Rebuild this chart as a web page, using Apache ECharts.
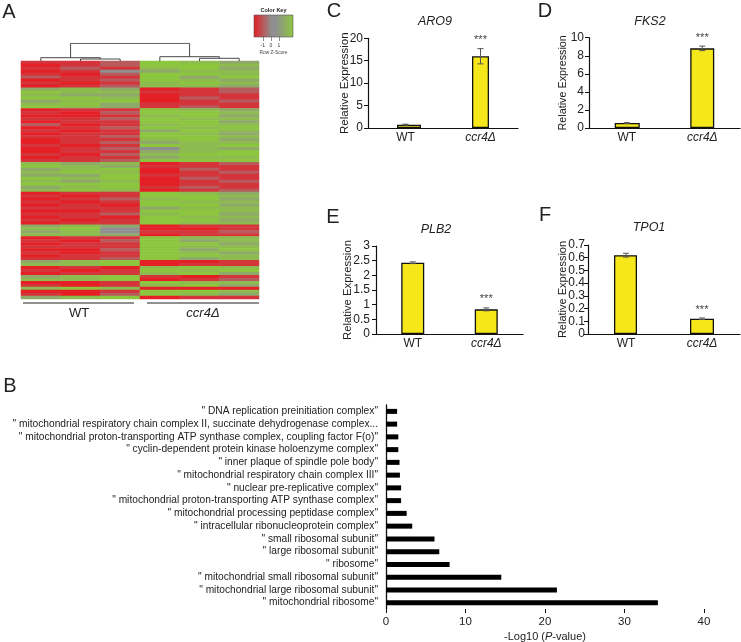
<!DOCTYPE html>
<html>
<head>
<meta charset="utf-8">
<script src="https://cdn.jsdelivr.net/npm/echarts@6/dist/echarts.min.js"></script>
<style>
html,body{margin:0;padding:0;background:#fff;}
#chart{width:741px;height:642px;}
</style>
</head>
<body>
<div id="chart"></div>
<script>
// ---------- Panel A: heatmap (rows top->bottom, 6 samples: WT x3, ccr4Δ x3) ----------
// letter code of row z-score: R=-1.5 r=-1.2 s=-0.7 m=0 h=0.7 g=1.2 G=1.5
const heatSamples = ['WT-1','WT-2','WT-3','ccr4Δ-1','ccr4Δ-2','ccr4Δ-3'];
const zCode = {R:-1.5, r:-1.2, s:-0.7, m:0, h:0.7, g:1.2, G:1.5};
const heatRows = [
  "rrsGgh","RrsGGg","rsrgGh","Rrmhgg","rRsGGg","srrGhG","RrsGgh","rRrgGg","Rrsggh",
  "hghRrs","Gggrrs","ghhRrr","GGgRsr","hgGRrs","gGhrrr","Gghrsr",
  "RrrGgh","rRsGGg","RRrgGh","rrsGgg","RrrGGh","sRrgGg","RrsGgG","rRrhGg","RrrGgh",
  "rrsGGg","RrrgGh","Rrshgg","rRrGgG","Rrsmgh","RrrhgG","rRsgGG","Rrrhgg","rrsGGG",
  "ghgRrs","Gghrrr","hgGRsr","gGgRrs","hhGrrr","GgGRsr","ghgRrs","GGGRrr","hgGrsr","gGgRrs",
  "RrrGgh","rRrGGg","RrsgGh","rRrGgg","RrRGGh","rrrhgg","RRrGGg","rrsgGh","RrRGgg","rRrGGh","RrrGgg",
  "hghRrr","gGmRRr","hgmrrs","gghRrr",
  "RrrGgg","rRsGhg","RrrGGh","rrrGgg","RRsGhG","rRrGgh","RrrGGg","rrsGhg",
  "hgGRRr","ggGRrr",
  "RrRgGg","rRrGgG","RrrgGh",
  "hgGrRr","ggGRrs",
  "RRrGgg","rRrgGh",
  "gGgRRR",
  "RRrGGg","rRsGgh",
  "hgGRrr"
];
// dendrogram over samples: [childA, childB, height] (leaves 0..5, merges numbered from 6)
const dendroMerges = [[1,2,2.0],[0,6,3.3],[4,5,2.7],[3,8,4.3],[7,9,17.7]];

// ---------- Panels C-F: qPCR ----------
const qpcrCats = ['WT','ccr4Δ'];
const aro9Mean = [0.75, 16.0], aro9Err = [0.1, 1.7];
const fks2Mean = [0.55, 8.82], fks2Err = [0.05, 0.25];
const plb2Mean = [2.43, 0.84], plb2Err = [0.03, 0.05];
const tpo1Mean = [0.62, 0.12], tpo1Err = [0.015, 0.006];
const sigMarks = ['', '***'];

// ---------- Panel B: GO terms ----------
const goTerms = [
  '" DNA replication preinitiation complex"',
  '" mitochondrial respiratory chain complex II, succinate dehydrogenase complex...',
  '" mitochondrial proton-transporting ATP synthase complex, coupling factor F(o)"',
  '" cyclin-dependent protein kinase holoenzyme complex"',
  '" inner plaque of spindle pole body"',
  '" mitochondrial respiratory chain complex III"',
  '" nuclear pre-replicative complex"',
  '" mitochondrial proton-transporting ATP synthase complex"',
  '" mitochondrial processing peptidase complex"',
  '" intracellular ribonucleoprotein complex"',
  '" small ribosomal subunit"',
  '" large ribosomal subunit"',
  '" ribosome"',
  '" mitochondrial small ribosomal subunit"',
  '" mitochondrial large ribosomal subunit"',
  '" mitochondrial ribosome"'
];
const goValues = [1.4, 1.4, 1.55, 1.55, 1.7, 1.75, 1.9, 1.9, 2.6, 3.3, 6.1, 6.7, 8.0, 14.5, 21.5, 34.2];

// ---------- build ----------
const FONT = '"Liberation Sans", Arial, Helvetica, sans-serif';
const TXT = '#222';

const heatData = [];
heatRows.forEach((row, r) => {
  for (let c = 0; c < row.length; c++) heatData.push([c, r, zCode[row[c]]]);
});

// dendrogram segments
const nodeX = [0,1,2,3,4,5], nodeH = [0,0,0,0,0,0];
const dendroLines = [];
dendroMerges.forEach(m => {
  const [a, b, h] = m;
  dendroLines.push({coords: [[nodeX[a], nodeH[a]], [nodeX[a], h], [nodeX[b], h], [nodeX[b], nodeH[b]]]});
  nodeX.push((nodeX[a] + nodeX[b]) / 2);
  nodeH.push(h);
});

const G = o => Object.assign({outerBoundsMode: 'none', containLabel: false}, o);
const grids = [
  G({left: 21, top: 61, width: 238, height: 238}),            // 0 heatmap
  G({left: 21, top: 43.3, width: 238, height: 17.7}),         // 1 dendrogram
  G({left: 254, top: 15, width: 39, height: 22}),             // 2 colour key
  G({left: 368, top: 38.3, width: 150, height: 89.7}),        // 3 C
  G({left: 589, top: 37.7, width: 151, height: 90.3}),        // 4 D
  G({left: 376, top: 246, width: 147, height: 88}),           // 5 E
  G({left: 588, top: 245, width: 152, height: 89}),           // 6 F
  G({left: 386, top: 405, width: 318, height: 204})           // 7 B
];

const xAxes = [
  {gridIndex: 0, type: 'category', data: heatSamples, show: false},
  {gridIndex: 1, type: 'value', min: -0.5, max: 5.5, show: false},
  {gridIndex: 2, type: 'value', min: -2.1, max: 2.75, show: true, position: 'bottom',
    axisLine: {show: false}, splitLine: {show: false},
    axisTick: {show: true, length: 4, customValues: [-1, 0, 1], lineStyle: {color: '#444', width: 0.6}},
    axisLabel: {show: true, customValues: [-1, 0, 1], fontSize: 5, margin: 6, color: '#333', fontFamily: FONT}}
];
const yAxes = [
  {gridIndex: 0, type: 'category', data: heatRows.map((_, i) => 'g' + i), inverse: true, show: false},
  {gridIndex: 1, type: 'value', min: 0, max: 17.7, show: false},
  {gridIndex: 2, type: 'value', min: 0, max: 1, show: false}
];

const qpcrPanels = [
  {grid: 3, mean: aro9Mean, err: aro9Err, max: 20, interval: 5, widths: [24, 17], nameGap: 17, nameSize: 11.5, lm: 5},
  {grid: 4, mean: fks2Mean, err: fks2Err, max: 10, interval: 2, widths: [25, 24], nameGap: 20, nameSize: 10.8, lm: 5},
  {grid: 5, mean: plb2Mean, err: plb2Err, max: 3, interval: 0.5, widths: [23, 23], nameGap: 23, nameSize: 11.3, lm: 6},
  {grid: 6, mean: tpo1Mean, err: tpo1Err, max: 0.7, interval: 0.1, widths: [23, 24], nameGap: 20, nameSize: 11, lm: 3}
];

const series = [
  {type: 'heatmap', xAxisIndex: 0, yAxisIndex: 0, data: heatData, progressive: 0,
    emphasis: {disabled: true}, itemStyle: {borderWidth: 0}},
  {type: 'lines', coordinateSystem: 'cartesian2d', xAxisIndex: 1, yAxisIndex: 1, polyline: true,
    data: dendroLines, lineStyle: {color: '#333', width: 0.9, opacity: 1}, silent: true}
];

qpcrPanels.forEach(p => {
  const ax = xAxes.length;
  xAxes.push({gridIndex: p.grid, type: 'category', data: qpcrCats,
    axisLine: {lineStyle: {color: '#111', width: 1.2}}, axisTick: {show: false},
    axisLabel: {fontSize: 12, color: TXT, fontFamily: FONT, margin: 4,
      formatter: v => v === 'WT' ? v : '{i|' + v + '}',
      rich: {i: {fontStyle: 'italic', fontSize: 12, color: TXT, fontFamily: FONT}}}});
  yAxes.push({gridIndex: p.grid, type: 'value', min: 0, max: p.max, interval: p.interval,
    name: 'Relative Expression', nameLocation: 'middle', nameGap: p.nameGap, nameMoveOverlap: false,
    nameTextStyle: {fontSize: p.nameSize, color: TXT, fontFamily: FONT},
    axisLine: {show: true, lineStyle: {color: '#111', width: 1.2}},
    axisTick: {show: true, length: 4, lineStyle: {color: '#111', width: 1}},
    axisLabel: {fontSize: 12, color: TXT, fontFamily: FONT, margin: p.lm},
    splitLine: {show: false}});
  const barStyle = {color: '#f6e71a', borderColor: '#111', borderWidth: 1.3};
  series.push({type: 'bar', xAxisIndex: ax, yAxisIndex: ax, barWidth: p.widths[0], barGap: '-100%',
    data: [p.mean[0], '-'], itemStyle: barStyle, silent: true});
  series.push({type: 'bar', xAxisIndex: ax, yAxisIndex: ax, barWidth: p.widths[1], barGap: '-100%',
    data: ['-', p.mean[1]], itemStyle: barStyle, silent: true});
  series.push({type: 'custom', xAxisIndex: ax, yAxisIndex: ax, silent: true, z: 5,
    data: p.mean.map((m, i) => [i, m, p.err[i]]),
    renderItem: (params, api) => {
      const i = api.value(0), m = api.value(1), e = api.value(2);
      const top = api.coord([i, m + e]), bot = api.coord([i, m - e]);
      const cap = 3;
      const st = {stroke: '#555', lineWidth: 1};
      const children = [
        {type: 'line', shape: {x1: top[0], y1: top[1], x2: bot[0], y2: bot[1]}, style: st},
        {type: 'line', shape: {x1: top[0] - cap, y1: top[1], x2: top[0] + cap, y2: top[1]}, style: st},
        {type: 'line', shape: {x1: bot[0] - cap, y1: bot[1], x2: bot[0] + cap, y2: bot[1]}, style: st}
      ];
      const s = sigMarks[params.dataIndex];
      if (s) children.push({type: 'text', x: top[0], y: top[1] - 3,
        style: {text: s, fontSize: 11, fill: '#444', align: 'center', verticalAlign: 'bottom', fontFamily: FONT}});
      return {type: 'group', children};
    }});
});

// Panel B
const bx = xAxes.length;
xAxes.push({gridIndex: 7, type: 'value', min: 0, max: 40, interval: 10,
  name: '-Log10 ({i|P}-value)', nameLocation: 'middle', nameGap: 22, nameMoveOverlap: false,
  nameTextStyle: {fontSize: 11, color: TXT, fontFamily: FONT,
    rich: {i: {fontStyle: 'italic', fontSize: 11, color: TXT, fontFamily: FONT}}},
  axisLine: {lineStyle: {color: '#111', width: 1.3}},
  axisTick: {show: true, length: 4, lineStyle: {color: '#111', width: 1}},
  axisLabel: {fontSize: 11.5, color: TXT, fontFamily: FONT, margin: 7},
  splitLine: {show: false}});
yAxes.push({gridIndex: 7, type: 'category', data: goTerms, inverse: true,
  axisLine: {lineStyle: {color: '#111', width: 1.3}}, axisTick: {show: false},
  axisLabel: {interval: 0, fontSize: 10.2, color: TXT, fontFamily: FONT, margin: 8}});
series.push({type: 'bar', xAxisIndex: bx, yAxisIndex: bx, data: goValues, barWidth: 5,
  itemStyle: {color: '#000'}, silent: true});

function txt(x, y, text, size, opts) {
  return Object.assign({type: 'text', x, y, silent: true,
    style: Object.assign({text, fontSize: size, fill: TXT, fontFamily: FONT, align: 'center', verticalAlign: 'middle'}, opts || {})});
}

const graphic = [
  txt(9, 12, 'A', 20),
  txt(334, 11.5, 'C', 20),
  txt(545, 11.5, 'D', 20),
  txt(333, 217, 'E', 20),
  txt(545, 215, 'F', 20),
  txt(10, 386, 'B', 20),
  txt(435, 22, 'ARO9', 12.5, {fontStyle: 'italic'}),
  txt(650, 22, 'FKS2', 12.5, {fontStyle: 'italic'}),
  txt(436, 230, 'PLB2', 12.5, {fontStyle: 'italic'}),
  txt(649, 228, 'TPO1', 12.5, {fontStyle: 'italic'}),
  // heatmap group annotations
  {type: 'line', silent: true, shape: {x1: 23, y1: 303, x2: 134, y2: 303}, style: {stroke: '#222', lineWidth: 1}},
  {type: 'line', silent: true, shape: {x1: 147, y1: 303, x2: 259, y2: 303}, style: {stroke: '#222', lineWidth: 1}},
  txt(79, 313.5, 'WT', 13),
  txt(203, 313.5, 'ccr4Δ', 13, {fontStyle: 'italic'}),
  // colour key
  txt(273.5, 10, 'Color Key', 5.5, {fontWeight: 'bold'}),
  {type: 'rect', silent: true, shape: {x: 254, y: 15, width: 39, height: 22},
    style: {fill: new echarts.graphic.LinearGradient(0, 0, 1, 0, [
      {offset: 0, color: '#e41f26'}, {offset: 0.45, color: '#8f8f8f'}, {offset: 0.55, color: '#8f8f8f'}, {offset: 1, color: '#8cc63f'}]),
      stroke: '#555', lineWidth: 0.6}},
  txt(273.5, 52.5, 'Row Z-Score', 4.8, {fill: '#444'})
];

const chart = echarts.init(document.getElementById('chart'), null, {renderer: 'canvas', width: 741, height: 642});
chart.setOption({
  animation: false,
  backgroundColor: '#fff',
  textStyle: {fontFamily: FONT},
  grid: grids,
  xAxis: xAxes,
  yAxis: yAxes,
  visualMap: {show: false, type: 'continuous', min: -1.5, max: 1.5, seriesIndex: 0, dimension: 2,
    inRange: {color: ['#e41f26', '#8f8f8f', '#8cc63f']}},
  series,
  graphic
});
</script>
</body>
</html>
